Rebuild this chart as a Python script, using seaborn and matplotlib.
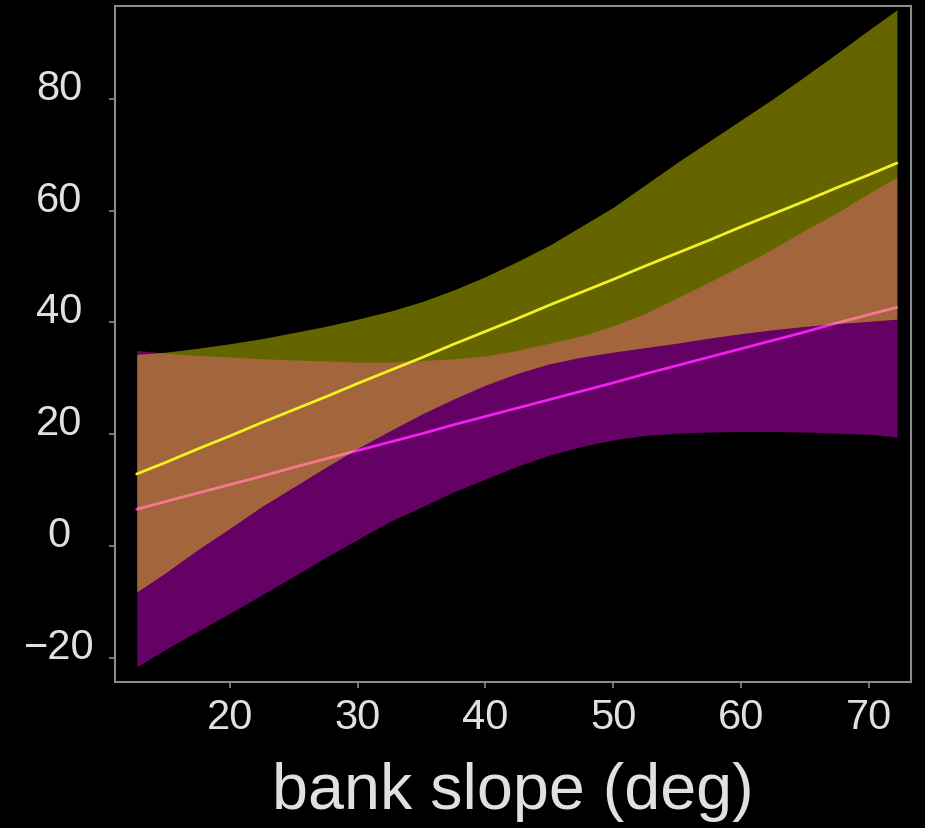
import matplotlib
matplotlib.use('Agg')
import matplotlib.pyplot as plt
import seaborn as sns
import numpy as np
import pandas as pd

# Values
slope = [12.7, 15, 17.5, 20, 22.5, 25, 27.5, 30, 32.5, 35, 37.5, 40, 42.5,
         45, 47.5, 50, 52.5, 55, 57.5, 60, 62.5, 65, 67.5, 70, 72.2]

# yellow group: fit line and confidence band
yellow_fit = [12.9, 15.0, 17.4, 19.7, 22.1, 24.4, 26.7, 29.1, 31.4, 33.7, 36.1, 38.4, 40.7,
              43.1, 45.4, 47.7, 50.1, 52.4, 54.7, 57.1, 59.4, 61.7, 64.1, 66.4, 68.5]
yellow_lo = [-8.2, -4.7, -0.6, 3.2, 7.1, 10.6, 14.1, 17.5, 20.6, 23.6, 26.3, 28.8, 30.9,
             32.6, 33.8, 34.7, 35.5, 36.3, 37.2, 38.0, 38.7, 39.3, 39.8, 40.2, 40.6]
yellow_hi = [34.3, 34.7, 35.4, 36.2, 37.1, 38.2, 39.3, 40.6, 42.0, 43.7, 45.8, 48.2, 50.9,
             53.8, 57.2, 60.6, 64.6, 68.6, 72.4, 76.2, 80.0, 84.0, 88.1, 92.3, 95.9]

# magenta group: fit line and confidence band
magenta_fit = [6.6, 8.0, 9.5, 11.0, 12.5, 14.1, 15.6, 17.1, 18.6, 20.1, 21.7, 23.2, 24.7,
               26.2, 27.7, 29.2, 30.8, 32.3, 33.8, 35.3, 36.8, 38.3, 39.9, 41.4, 42.7]
magenta_lo = [-21.6, -18.4, -15.2, -12.0, -8.7, -5.4, -2.0, 1.2, 4.4, 7.0, 9.7, 12.0, 14.3,
              16.3, 17.8, 19.0, 19.8, 20.2, 20.4, 20.5, 20.5, 20.4, 20.2, 20.0, 19.5]
magenta_hi = [35.0, 34.5, 34.1, 33.8, 33.5, 33.3, 33.1, 32.9, 32.9, 33.2, 33.5, 34.0, 35.0,
              36.3, 37.6, 39.4, 41.6, 44.4, 47.2, 50.1, 53.2, 56.5, 59.6, 63.1, 66.0]

x_ticks = [20, 30, 40, 50, 60, 70]
y_ticks = [-20, 0, 20, 40, 60, 80]

sns.set_style('dark', rc={'axes.facecolor': 'black', 'figure.facecolor': 'black',
                          'axes.edgecolor': '#8a8a8a', 'axes.grid': False})
plt.rcParams['font.family'] = ['Liberation Sans', 'DejaVu Sans']

df = pd.DataFrame({'slope': slope, 'yellow': yellow_fit, 'magenta': magenta_fit})

fig = plt.figure(figsize=(9.25, 8.29), dpi=100)
ax = fig.add_axes([0.1243, 0.1761, 0.8605, 0.8155])

# draw order matters: magenta band + line first, then yellow band over it
ax.fill_between(slope, magenta_lo, magenta_hi, color='#ff00ff', alpha=0.4,
                linewidth=0, zorder=1)
sns.lineplot(data=df, x='slope', y='magenta', color='#f020f0', linewidth=2,
             ax=ax, zorder=1.5)
ax.fill_between(slope, yellow_lo, yellow_hi, color='#ffff00', alpha=0.4,
                linewidth=0, zorder=2)
sns.lineplot(data=df, x='slope', y='yellow', color='#f2f220', linewidth=2,
             ax=ax, zorder=3)

ax.set_xlim(11.0, 73.3)
ax.set_ylim(-24.3, 96.6)
ax.set_xticks(x_ticks)
ax.set_yticks(y_ticks)
ax.set_xticklabels([str(v) for v in x_ticks])
ax.set_yticklabels(['\u221220' if v == -20 else str(v) for v in y_ticks])

for side in ['left', 'right', 'top', 'bottom']:
    ax.spines[side].set_color('#8a8a8a')
    ax.spines[side].set_linewidth(1.5)

ax.tick_params(axis='both', colors='#8a8a8a', labelcolor='#e0e0e0',
               length=4, width=1.2, direction='out', labelsize=30)
ax.tick_params(axis='x', pad=7, bottom=True)
ax.tick_params(axis='y', pad=36, left=True)
for lab in ax.get_yticklabels():
    lab.set_verticalalignment('baseline')
    lab.set_horizontalalignment('center')

ax.set_xlabel('bank slope (deg)', fontsize=46.5, color='#e0e0e0', labelpad=17)
ax.set_ylabel('')

fig.savefig('out.png', dpi=100, facecolor='black')
